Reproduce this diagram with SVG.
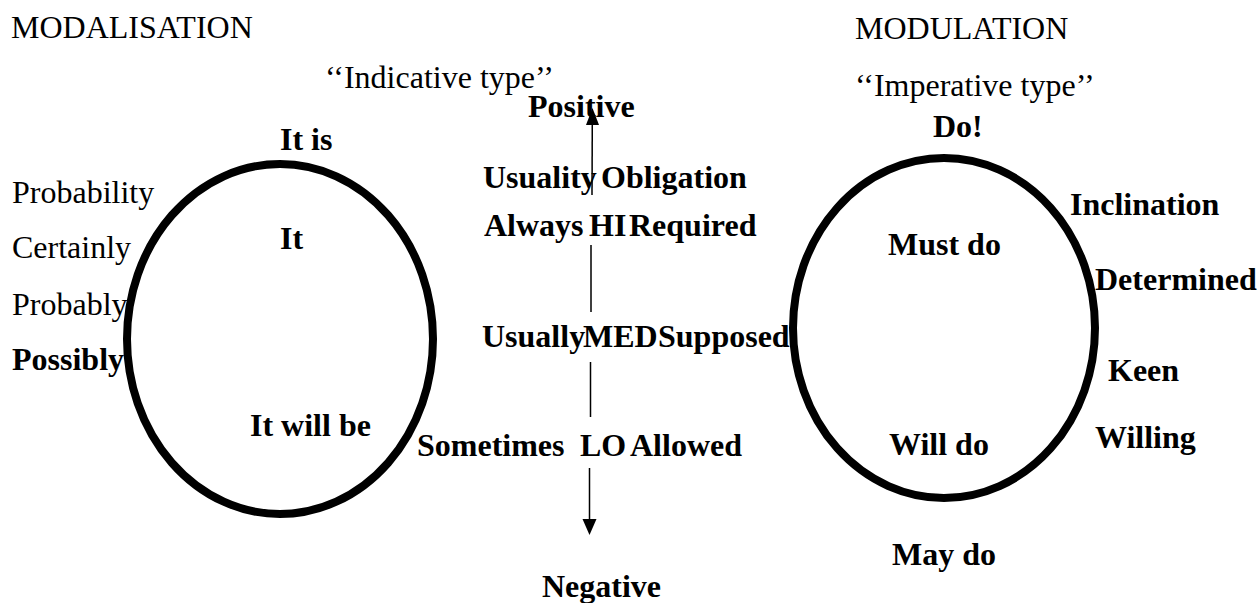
<svg xmlns="http://www.w3.org/2000/svg" width="1260" height="603" viewBox="0 0 1260 603">
  <defs>
    <style>
      text { font-family: "Liberation Serif", "Times New Roman", serif; font-size: 32px; fill: #000; }
      .b { font-weight: bold; }
      .ring { fill: none; stroke: #000; stroke-width: 8; }
      .axis { fill: none; stroke: #000; stroke-width: 1.5; }
    </style>
  </defs>
  <rect width="1260" height="603" fill="#fff"/>

  <!-- modalisation side -->
  <g id="modalisation">
    <text x="11" y="38">MODALISATION</text>
    <text x="325" y="88">‘‘Indicative type’’</text>
    <ellipse class="ring" cx="280" cy="339" rx="153" ry="175"/>
    <text class="b" x="280" y="150">It is</text>
    <text class="b" x="280" y="249">It</text>
    <text class="b" x="250" y="436">It will be</text>
    <text x="12" y="203">Probability</text>
    <text x="12" y="258">Certainly</text>
    <text x="12" y="315">Probably</text>
    <text class="b" x="12" y="370">Possibly</text>
  </g>

  <!-- central scale -->
  <g id="scale">
    <text class="b" x="528" y="117">Positive</text>
    <text class="b" x="483" y="188">Usuality</text>
    <text class="b" x="601" y="188">Obligation</text>
    <text class="b" x="484" y="236">Always</text>
    <text class="b" x="589" y="236">HI</text>
    <text class="b" x="629" y="236">Required</text>
    <text class="b" x="482" y="347">Usually</text>
    <text class="b" x="583" y="347">MED</text>
    <text class="b" x="658" y="347">Supposed</text>
    <text class="b" x="417" y="456">Sometimes</text>
    <text class="b" x="580" y="456">LO</text>
    <text class="b" x="630" y="456">Allowed</text>
    <text class="b" x="542" y="597">Negative</text>
  </g>

  <!-- modulation side -->
  <g id="modulation">
    <text x="855" y="39">MODULATION</text>
    <text x="855" y="96">‘‘Imperative type’’</text>
    <text class="b" x="933" y="137">Do!</text>
    <ellipse class="ring" cx="944" cy="328" rx="151" ry="170"/>
    <text class="b" x="888" y="255">Must do</text>
    <text class="b" x="889" y="455">Will do</text>
    <text class="b" x="892" y="565">May do</text>
    <text class="b" x="1070" y="215">Inclination</text>
    <text class="b" x="1095" y="290">Determined</text>
    <text class="b" x="1108" y="381">Keen</text>
    <text class="b" x="1095" y="448">Willing</text>
  </g>

  <!-- scale axis, broken around the labels -->
  <g id="connectors">
    <path class="axis" d="M592,195 L592.3,122"/>
    <polygon points="592.5,108 586,125 599,125" fill="#000"/>
    <path class="axis" d="M591,245 L591,312 M590.5,362 L590.5,417 M589.5,468 L589.5,522"/>
    <polygon points="589.5,535 582.5,519 596.5,519" fill="#000"/>
  </g>
</svg>
